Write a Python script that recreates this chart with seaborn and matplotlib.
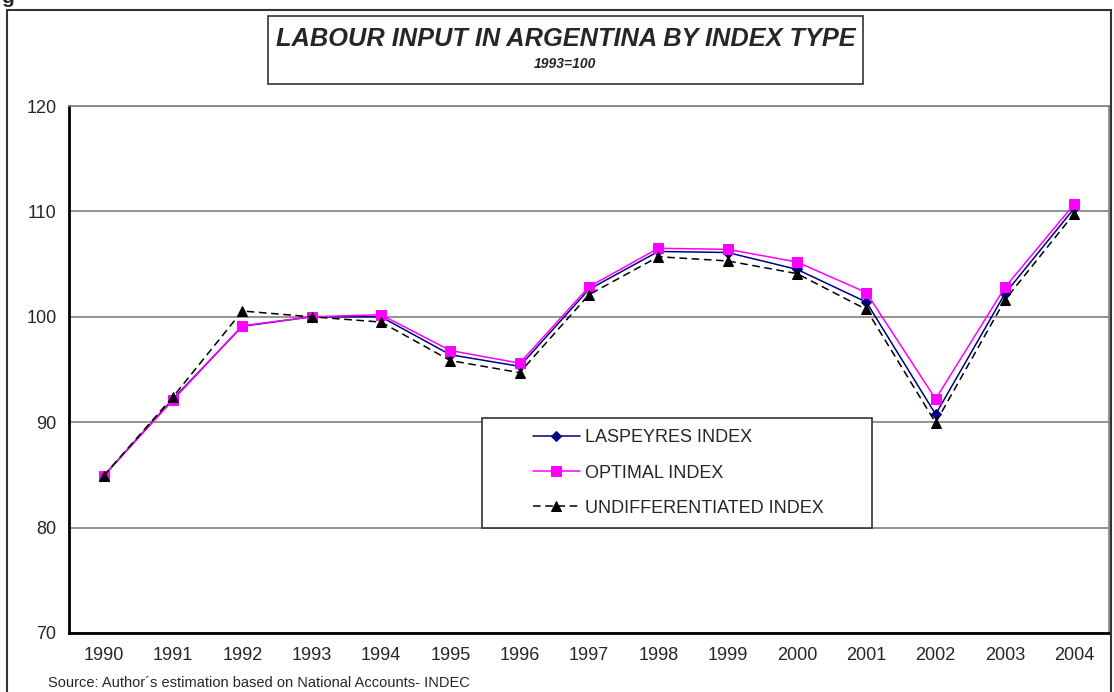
import pandas as pd
import numpy as np
import seaborn as sns
import matplotlib.pyplot as plt
from matplotlib.patches import Rectangle

years = list(range(1990, 2005))

laspeyres = [84.9, 92.2, 99.1, 100.0, 100.0, 96.4, 95.3, 102.6, 106.2,
             106.1, 104.5, 101.4, 90.75, 102.2, 110.3]
optimal = [84.9, 92.1, 99.15, 100.0, 100.2, 96.8, 95.6, 102.85, 106.5,
           106.4, 105.2, 102.3, 92.2, 102.8, 110.7]
undiff = [84.9, 92.4, 100.55, 100.0, 99.5, 95.85, 94.7, 102.1, 105.7,
          105.3, 104.1, 100.7, 89.95, 101.6, 109.8]

series_names = ["LASPEYRES INDEX", "OPTIMAL INDEX", "UNDIFFERENTIATED INDEX"]

sns.set_style("white")
plt.rcParams["font.family"] = ["Liberation Sans", "DejaVu Sans"]

fig = plt.figure(figsize=(11.14, 6.92), dpi=100)
ax = fig.add_axes([0.0619, 0.0853, 0.9336, 0.7615])

df = pd.DataFrame({
    "year": years * 3,
    "value": laspeyres + optimal + undiff,
    "series": [series_names[0]] * 15 + [series_names[1]] * 15 + [series_names[2]] * 15,
})

styles = {
    series_names[0]: dict(color="#000080", marker="D", markersize=5, linestyle="-"),
    series_names[1]: dict(color="#FF00FF", marker="s", markersize=6.5, linestyle="-"),
    series_names[2]: dict(color="black", marker="^", markersize=6.5, linestyle=(0, (5, 3))),
}

for name in series_names:
    st = styles[name]
    sns.lineplot(
        data=df[df["series"] == name],
        x="year",
        y="value",
        ax=ax,
        color=st["color"],
        marker=st["marker"],
        markersize=st["markersize"],
        markeredgecolor=st["color"],
        linestyle=st["linestyle"],
        linewidth=1.1,
        label=name,
        zorder=3,
    )

ax.set_xlim(1989.5, 2004.5)
ax.set_ylim(70, 120)
ax.set_yticks([70, 80, 90, 100, 110, 120])
ax.set_xticks(years)
ax.set_xticks(np.arange(1989.5, 2005, 1), minor=True)
ax.tick_params(axis="x", which="major", length=0, pad=10, labelsize=13)
ax.tick_params(axis="x", which="minor", length=5, width=1, color="#333333", direction="out")
ax.tick_params(axis="y", length=6, width=1, color="#333333", direction="out", labelsize=13, pad=3)
ax.set_xlabel("")
ax.set_ylabel("")

ax.yaxis.grid(True, color="#808080", linewidth=1.2)
ax.set_axisbelow(True)

ax.spines["left"].set_color("black")
ax.spines["left"].set_linewidth(2)
ax.spines["bottom"].set_color("black")
ax.spines["bottom"].set_linewidth(2)
ax.spines["right"].set_color("#808080")
ax.spines["right"].set_linewidth(1.2)
ax.spines["top"].set_color("#808080")
ax.spines["top"].set_linewidth(1.2)

# legend box
ax.legend_.remove()
ax.add_patch(Rectangle((0.397, 0.199), 0.375, 0.209, transform=ax.transAxes,
                       facecolor="white", edgecolor="#333333", linewidth=1.2, zorder=4))
handles, labels = ax.get_legend_handles_labels()
leg = ax.legend(
    handles, labels,
    loc="center",
    bbox_to_anchor=(0.586, 0.3035),
    frameon=False,
    fontsize=13,
    labelspacing=1.0,
    handlelength=2.6,
    handletextpad=0.33,
)
leg.set_zorder(5)

# title box
fig.patches.append(Rectangle((0.2406, 0.8786), 0.534, 0.0983, transform=fig.transFigure,
                             facecolor="white", edgecolor="#333333", linewidth=1.2))
fig.text(0.5076, 0.944, "LABOUR INPUT IN ARGENTINA BY INDEX TYPE",
         ha="center", va="center", fontsize=18.3, fontweight="bold", fontstyle="italic")
fig.text(0.5076, 0.9075, "1993=100",
         ha="center", va="center", fontsize=10, fontweight="bold", fontstyle="italic")

# outer frame
fig.patches.append(Rectangle((0.0063, -0.05), 0.991, 1.0355, transform=fig.transFigure,
                             facecolor="none", edgecolor="#333333", linewidth=1.5))

fig.text(0.043, 0.003, "Source: Author\u00b4s estimation based on National Accounts- INDEC",
         ha="left", va="bottom", fontsize=10.5)

fig.text(0.001, 1.003, "g", ha="left", va="center", fontsize=15, fontweight="bold")

plt.savefig("out.png", dpi=100)
